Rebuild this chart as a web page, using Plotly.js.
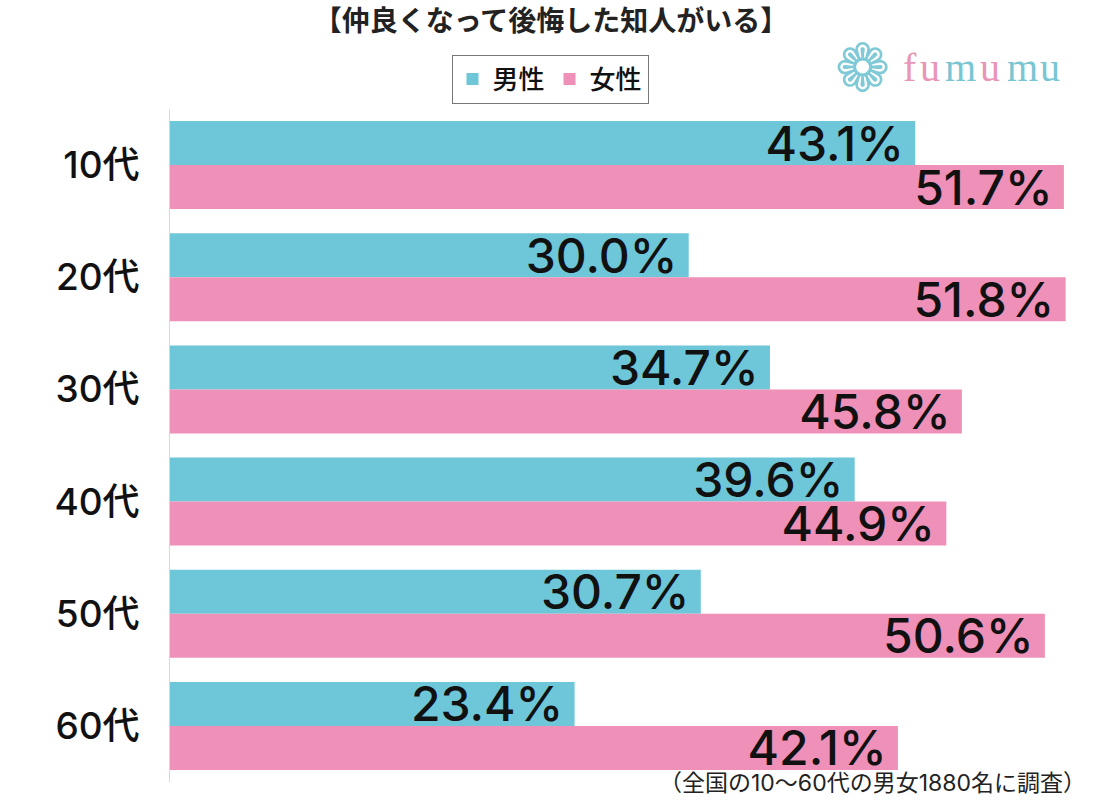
<!DOCTYPE html>
<html><head><meta charset="utf-8">
<script src="https://cdn.plot.ly/plotly-3.0.1.min.js"></script>
<style>html,body{margin:0;padding:0;background:#fff;}</style>
</head><body>
<div id="chart" style="width:1102px;height:800px;"></div>
<script>
const categories = ['10代','20代','30代','40代','50代','60代'];
const maleValues = [43.1, 30.0, 34.7, 39.6, 30.7, 23.4];
const femaleValues = [51.7, 51.8, 45.8, 44.9, 50.6, 42.1];
const seriesNames = ['男性','女性'];
const chartTitle = '【仲良くなって後悔した知人がいる】';
const footnote = '（全国の10〜60代の男女1880名に調査）';

const FONT = 'Inter, "Noto Sans CJK JP", "Noto Sans", sans-serif';
const CJK = '"Noto Sans CJK JP", "Noto Sans", sans-serif';
const fmt = v => v.toFixed(1) + '%\u2009';

const common = {
  type: 'bar', orientation: 'h', y: categories,
  textposition: 'inside', insidetextanchor: 'end', constraintext: 'none',
  textfont: {family: FONT, size: 48, color: '#111', weight: 500},
  hoverinfo: 'skip', cliponaxis: false
};
const traces = [
  Object.assign({}, common, {name: seriesNames[0], x: maleValues, text: maleValues.map(fmt), marker: {color: '#6ec6d9'}}),
  Object.assign({}, common, {name: seriesNames[1], x: femaleValues, text: femaleValues.map(fmt), marker: {color: '#ee90b7'}})
];

const logoLetters = ['f','u','m','u','m','u'];
const logoColors = ['#e995b8','#e995b8','#79c6d3','#e995b8','#79c6d3','#79c6d3'];
const logoX = [903, 920, 945, 980, 1007, 1040];
const annotations = [
  {text: footnote, xref: 'paper', yref: 'paper', x: 1088, y: 800-783, xanchor: 'right', yanchor: 'middle', showarrow: false, font: {family: FONT, size: 23, color: '#222'}},
  {text: '❁', xref: 'paper', yref: 'paper', x: 862, y: 800-68, xanchor: 'center', yanchor: 'middle', showarrow: false, font: {family: 'DejaVu Sans', size: 66, color: '#7fcad6'}}
];
logoLetters.forEach((ch, i) => {
  annotations.push({text: ch, xref: 'paper', yref: 'paper', x: logoX[i] - 2, y: 800-67, xanchor: 'left', yanchor: 'middle', showarrow: false,
    font: {family: '"Liberation Serif", serif', size: 40, color: logoColors[i]}});
});
const W = 1102, H = 800, mL = 170, mR = 12, mT = 109, mB = 18;
annotations.forEach(a => {
  a.x = (a.x - mL) / (W - mL - mR);
  a.y = (a.y - mB) / (H - mT - mB);
});

const layout = {
  width: W, height: H,
  margin: {l: mL, r: mR, t: mT, b: mB, pad: 0},
  paper_bgcolor: '#fff', plot_bgcolor: '#fff',
  font: {family: FONT, color: '#111'},
  title: {text: chartTitle, x: 0.5, xref: 'container', xanchor: 'center', y: 1 - 21/H, yref: 'container', yanchor: 'middle',
    font: {family: CJK, size: 28, color: '#222', weight: 'bold'}},
  barmode: 'group', bargap: 0.216, bargroupgap: 0,
  showlegend: true,
  legend: {orientation: 'h', x: (550 - mL) / (W - mL - mR), xanchor: 'center', y: 1 + (109 - 79) / (H - mT - mB), yanchor: 'middle',
    bordercolor: '#777', borderwidth: 1, bgcolor: '#fff', font: {family: CJK, size: 26, color: '#111', weight: 500},
    itemwidth: 30, tracegroupgap: 0, itemclick: false},
  xaxis: {range: [0, (W - mL - mR) / 17.29], showgrid: false, zeroline: false, showticklabels: false, showline: false, fixedrange: true},
  yaxis: {autorange: 'reversed', showgrid: false, zeroline: false, showline: true, linecolor: '#d8d8d8', linewidth: 1,
    ticks: '', ticklabelstandoff: 22, tickfont: {family: FONT, size: 37, color: '#111', weight: 500}, fixedrange: true},
  annotations: annotations
};
Plotly.newPlot('chart', traces, layout, {displayModeBar: false, staticPlot: true});
</script>
</body></html>
